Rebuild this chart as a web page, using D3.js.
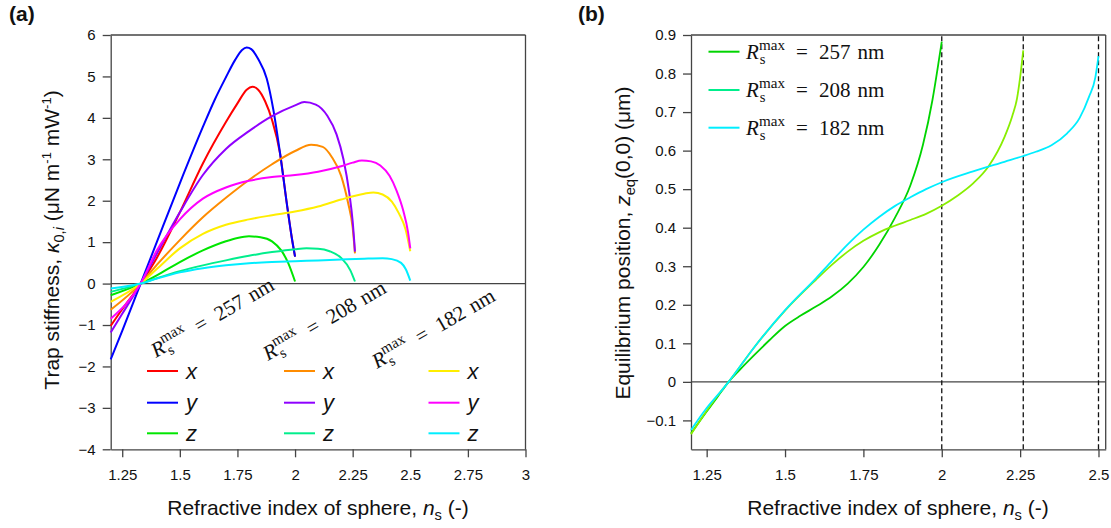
<!DOCTYPE html>
<html>
<head>
<meta charset="utf-8">
<script src="https://cdn.jsdelivr.net/npm/d3@7"></script>
<style>
  body { margin: 0; background: #fff; }
  svg { display: block; font-family: "Liberation Sans", Arial, Helvetica, sans-serif; }
</style>
</head>
<body>
<div id="chart"></div>
<script>
// ---- data, panel (a): trap stiffness [n_s, kappa] ----
const kx257 = [[1.2,-1.02],[1.25,-0.62],[1.3,-0.24],[1.33,0],[1.4,0.62],[1.5,1.72],[1.6,2.9],[1.7,3.9],[1.75,4.35],[1.79,4.68],[1.815,4.75],[1.84,4.68],[1.87,4.4],[1.9,3.95],[1.935,3.14],[1.964,1.94],[1.986,1.1],[2.0,0.65]];
const ky257 = [[1.2,-1.83],[1.25,-1.14],[1.3,-0.43],[1.33,0],[1.4,1.0],[1.5,2.42],[1.6,3.78],[1.65,4.42],[1.7,4.98],[1.74,5.4],[1.77,5.64],[1.79,5.7],[1.81,5.66],[1.84,5.42],[1.877,4.95],[1.906,4.19],[1.935,3.14],[1.964,1.94],[1.986,1.1],[2.0,0.65]];
const kz257 = [[1.2,-0.28],[1.33,0],[1.4,0.2],[1.5,0.52],[1.6,0.8],[1.7,1.02],[1.75,1.1],[1.8,1.14],[1.85,1.12],[1.9,1.02],[1.94,0.8],[1.97,0.5],[2.0,0.05]];
const kx208 = [[1.2,-0.63],[1.33,0],[1.4,0.45],[1.5,1.05],[1.6,1.6],[1.7,2.07],[1.8,2.5],[1.9,2.88],[2.0,3.2],[2.07,3.35],[2.12,3.3],[2.16,3.05],[2.2,2.6],[2.23,1.95],[2.25,1.35],[2.26,0.73]];
const ky208 = [[1.2,-1.18],[1.25,-0.73],[1.3,-0.28],[1.33,0],[1.4,0.72],[1.5,1.72],[1.6,2.62],[1.7,3.25],[1.8,3.68],[1.9,4.04],[2.0,4.3],[2.04,4.38],[2.09,4.32],[2.14,4.05],[2.18,3.6],[2.21,3.0],[2.235,2.2],[2.25,1.5],[2.26,0.77]];
const kz208 = [[1.2,-0.2],[1.33,0],[1.4,0.13],[1.5,0.3],[1.6,0.44],[1.7,0.56],[1.8,0.67],[1.9,0.76],[2.0,0.83],[2.05,0.85],[2.1,0.84],[2.15,0.78],[2.2,0.62],[2.24,0.32],[2.26,0.05]];
const kx182 = [[1.2,-0.44],[1.33,0],[1.4,0.35],[1.5,0.85],[1.6,1.2],[1.7,1.42],[1.8,1.55],[1.9,1.65],[2.0,1.74],[2.1,1.86],[2.2,2.03],[2.3,2.17],[2.34,2.2],[2.38,2.15],[2.42,1.98],[2.45,1.7],[2.48,1.3],[2.5,0.78]];
const ky182 = [[1.2,-0.85],[1.33,0],[1.4,0.8],[1.5,1.55],[1.6,2.05],[1.7,2.32],[1.8,2.48],[1.9,2.57],[2.0,2.62],[2.1,2.7],[2.2,2.83],[2.25,2.92],[2.29,2.97],[2.33,2.95],[2.37,2.85],[2.41,2.6],[2.44,2.25],[2.47,1.75],[2.49,1.25],[2.5,0.85]];
const kz182 = [[1.2,-0.12],[1.33,0],[1.4,0.12],[1.5,0.27],[1.6,0.37],[1.7,0.44],[1.8,0.49],[1.9,0.52],[2.0,0.54],[2.1,0.56],[2.2,0.58],[2.3,0.6],[2.38,0.61],[2.42,0.59],[2.46,0.5],[2.48,0.35],[2.5,0.07]];

// ---- data, panel (b): equilibrium position [n_s, z_eq] ----
const zeq257 = [[1.2,-0.134],[1.25,-0.077],[1.3,-0.022],[1.32,0],[1.36,0.035],[1.4,0.068],[1.45,0.108],[1.5,0.145],[1.55,0.172],[1.6,0.196],[1.65,0.222],[1.7,0.255],[1.75,0.298],[1.8,0.355],[1.85,0.425],[1.9,0.51],[1.94,0.615],[1.97,0.73],[1.99,0.83],[2.0,0.883]];
const zeq208 = [[1.2,-0.136],[1.25,-0.075],[1.3,-0.02],[1.32,0],[1.4,0.088],[1.5,0.185],[1.6,0.266],[1.65,0.304],[1.7,0.338],[1.75,0.366],[1.8,0.388],[1.85,0.405],[1.9,0.42],[1.95,0.436],[2.0,0.457],[2.05,0.483],[2.1,0.515],[2.15,0.56],[2.2,0.635],[2.225,0.69],[2.24,0.735],[2.25,0.79],[2.26,0.86]];
const zeq182 = [[1.2,-0.125],[1.25,-0.068],[1.3,-0.02],[1.32,0],[1.4,0.088],[1.5,0.186],[1.6,0.27],[1.65,0.314],[1.7,0.357],[1.75,0.395],[1.8,0.428],[1.85,0.456],[1.9,0.479],[1.95,0.5],[2.0,0.518],[2.1,0.546],[2.2,0.571],[2.26,0.586],[2.3,0.597],[2.35,0.614],[2.4,0.645],[2.44,0.685],[2.47,0.74],[2.49,0.79],[2.5,0.845]];
const nMax = [2, 2.26, 2.5];           // dashed verticals in (b)
const radii = ["257", "208", "182"];    // R_s^max in nm
const comps = ["x", "y", "z"];

// tick labels
const aXTicks = [1.25, 1.5, 1.75, 2, 2.25, 2.5, 2.75, 3];
const aYTicks = [-4, -3, -2, -1, 0, 1, 2, 3, 4, 5, 6];
const bXTicks = [1.25, 1.5, 1.75, 2, 2.25, 2.5];
const bYTicks = [-0.1, 0, 0.1, 0.2, 0.3, 0.4, 0.5, 0.6, 0.7, 0.8, 0.9];

// colours (style, kept apart from the data)
const colA = {
  "257": { x: "#ff0000", y: "#0000ff", z: "#00e600" },
  "208": { x: "#ff8c00", y: "#8f00ff", z: "#00ee8c" },
  "182": { x: "#ffee00", y: "#ff00ff", z: "#00eeff" }
};
const colB = ["#00d400", "#88ee00", "#00eeff"];
const colBLegend = ["#00d400", "#00ee8c", "#00eeff"];

const seriesA = [
  { r: "257", c: "x", pts: kx257 }, { r: "257", c: "y", pts: ky257 }, { r: "257", c: "z", pts: kz257 },
  { r: "208", c: "x", pts: kx208 }, { r: "208", c: "y", pts: ky208 }, { r: "208", c: "z", pts: kz208 },
  { r: "182", c: "x", pts: kx182 }, { r: "182", c: "y", pts: ky182 }, { r: "182", c: "z", pts: kz182 }
];
const seriesB = [zeq257, zeq208, zeq182];

const W = 1111, H = 528;
const svg = d3.select("#chart").append("svg").attr("width", W).attr("height", H);
svg.append("rect").attr("width", W).attr("height", H).attr("fill", "#fff");

const fmt = d3.format("");
const boxCol = "#444";

// small helper for sub/superscripts: parts = [{t, it, sh, sc, dx}]
function rich(text, parts, fs) {
  let cur = 0;
  parts.forEach(p => {
    const sh = p.sh || 0;
    const ts = text.append("tspan").text(p.t).attr("dy", sh - cur);
    cur = sh;
    if (p.it) ts.attr("font-style", "italic");
    if (p.sc) ts.attr("font-size", fs * p.sc);
    if (p.dx) ts.attr("dx", p.dx);
  });
}
const rsParts = r => [
  { t: "R", it: true },
  { t: "s", sh: 5, sc: 0.7, dx: 1 },
  { t: "max", sh: -9, sc: 0.72, dx: -6.5 },
  { t: "=", sh: 0, dx: 11 },
  { t: r, dx: 11 },
  { t: "nm", dx: 7 }
];

function styleAxis(g) {
  g.selectAll(".domain").attr("stroke", boxCol).attr("stroke-width", 1.3);
  g.selectAll(".tick line").attr("stroke", boxCol).attr("stroke-width", 1.3);
  g.selectAll(".tick text").attr("fill", "#111").style("font-size", "15px")
    .style("font-family", "'Liberation Sans', Arial, sans-serif");
}

function frame(x, y, xt, yt) {
  const g = svg.append("g");
  g.append("g").attr("transform", `translate(0,${y.range()[0]})`)
    .call(d3.axisBottom(x).tickValues(xt).tickFormat(fmt).tickSize(8).tickSizeOuter(0).tickPadding(12))
    .call(styleAxis);
  g.append("g").attr("transform", `translate(${x.range()[0]},0)`)
    .call(d3.axisLeft(y).tickValues(yt).tickFormat(fmt).tickSize(8).tickSizeOuter(0).tickPadding(7))
    .call(styleAxis);
  // top and right of the box
  g.append("line").attr("x1", x.range()[0]).attr("x2", x.range()[1]).attr("y1", y.range()[1]).attr("y2", y.range()[1])
    .attr("stroke", boxCol).attr("stroke-width", 1.3);
  g.append("line").attr("x1", x.range()[1]).attr("x2", x.range()[1]).attr("y1", y.range()[0]).attr("y2", y.range()[1])
    .attr("stroke", boxCol).attr("stroke-width", 1.3);
  // zero line
  g.append("line").attr("x1", x.range()[0]).attr("x2", x.range()[1]).attr("y1", y(0)).attr("y2", y(0))
    .attr("stroke", "#444").attr("stroke-width", 1.2);
  return g;
}

// ================= panel (a) =================
const ax = d3.scaleLinear().domain([1.2, 3]).range([110.7, 525.5]);
const ay = d3.scaleLinear().domain([-4, 6]).range([449.3, 35]);
frame(ax, ay, aXTicks, aYTicks);

const lineA = d3.line().x(d => ax(d[0])).y(d => ay(d[1])).curve(d3.curveMonotoneX);
svg.append("g").selectAll("path").data(seriesA).join("path")
  .attr("d", d => lineA(d.pts))
  .attr("fill", "none")
  .attr("stroke", d => colA[d.r][d.c])
  .attr("stroke-width", 2);

// rotated R_s^max labels
const annoPos = [[156, 358], [268, 361], [377, 369]];
radii.forEach((r, i) => {
  const t = svg.append("text")
    .attr("transform", `translate(${annoPos[i][0]},${annoPos[i][1]}) rotate(-30)`)
    .attr("font-family", "'Liberation Serif', 'Times New Roman', serif")
    .attr("font-size", 21).attr("fill", "#111");
  rich(t, rsParts(r), 21);
});

// legend (a)
const legX = [147, 284, 428.5];
const legY = [371, 402.7, 433.3];
radii.forEach((r, i) => {
  comps.forEach((c, j) => {
    svg.append("line").attr("x1", legX[i]).attr("x2", legX[i] + 31)
      .attr("y1", legY[j]).attr("y2", legY[j])
      .attr("stroke", colA[r][c]).attr("stroke-width", 2);
    svg.append("text").attr("x", legX[i] + 39).attr("y", legY[j] + 7.5)
      .attr("font-size", 22).attr("font-style", "italic").attr("fill", "#111").text(c);
  });
});

// axis titles (a)
const axT = svg.append("text").attr("x", 318).attr("y", 515).attr("text-anchor", "middle")
  .attr("font-size", 21).attr("fill", "#111");
rich(axT, [{ t: "Refractive index of sphere, " }, { t: "n", it: true }, { t: "s", sh: 5, sc: 0.7 }, { t: " (-)", sh: 0 }], 21);

const ayT = svg.append("text").attr("transform", "translate(59,240) rotate(-90)").attr("text-anchor", "middle")
  .attr("font-size", 21).attr("fill", "#111");
rich(ayT, [
  { t: "Trap stiffness, " }, { t: "κ", it: true },
  { t: "0,", sh: 5, sc: 0.7 }, { t: "i", sh: 5, sc: 0.7, it: true },
  { t: " (μN m", sh: 0 }, { t: "-1", sh: -8, sc: 0.62 },
  { t: " mW", sh: 0 }, { t: "-1", sh: -8, sc: 0.62 }, { t: ")", sh: 0 }
], 21);

svg.append("text").attr("x", 9).attr("y", 20.5).attr("font-size", 21).attr("font-weight", "bold")
  .attr("fill", "#111").text("(a)");

// ================= panel (b) =================
const bx = d3.scaleLinear().domain([1.2, 2.523]).range([691, 1105.7]);
const by = d3.scaleLinear().domain([-0.175, 0.9]).range([449.3, 35]);
frame(bx, by, bXTicks, bYTicks);

svg.append("g").selectAll("line").data(nMax).join("line")
  .attr("x1", d => bx(d)).attr("x2", d => bx(d))
  .attr("y1", by.range()[0]).attr("y2", by.range()[1])
  .attr("stroke", "#111").attr("stroke-width", 1.3).attr("stroke-dasharray", "5,3");

const lineB = d3.line().x(d => bx(d[0])).y(d => by(d[1])).curve(d3.curveMonotoneX);
svg.append("g").selectAll("path").data(seriesB).join("path")
  .attr("d", d => lineB(d))
  .attr("fill", "none")
  .attr("stroke", (d, i) => colB[i])
  .attr("stroke-width", 1.8);

// legend (b)
const legBY = [51.7, 90, 127.7];
radii.forEach((r, i) => {
  svg.append("line").attr("x1", 708.5).attr("x2", 739.5).attr("y1", legBY[i]).attr("y2", legBY[i])
    .attr("stroke", colBLegend[i]).attr("stroke-width", 2);
  const t = svg.append("text").attr("x", 746).attr("y", legBY[i] + 7)
    .attr("font-family", "'Liberation Serif', 'Times New Roman', serif")
    .attr("font-size", 21).attr("fill", "#111");
  rich(t, rsParts(r), 21);
});

const bxT = svg.append("text").attr("x", 898).attr("y", 515).attr("text-anchor", "middle")
  .attr("font-size", 21).attr("fill", "#111");
rich(bxT, [{ t: "Refractive index of sphere, " }, { t: "n", it: true }, { t: "s", sh: 5, sc: 0.7 }, { t: " (-)", sh: 0 }], 21);

const byT = svg.append("text").attr("transform", "translate(630,243) rotate(-90)").attr("text-anchor", "middle")
  .attr("font-size", 21).attr("fill", "#111");
rich(byT, [
  { t: "Equilibrium position, " }, { t: "z", it: true },
  { t: "eq", sh: 5, sc: 0.7 }, { t: "(0,0) (μm)", sh: 0 }
], 21);

svg.append("text").attr("x", 578).attr("y", 20.5).attr("font-size", 21).attr("font-weight", "bold")
  .attr("fill", "#111").text("(b)");
</script>
</body>
</html>
